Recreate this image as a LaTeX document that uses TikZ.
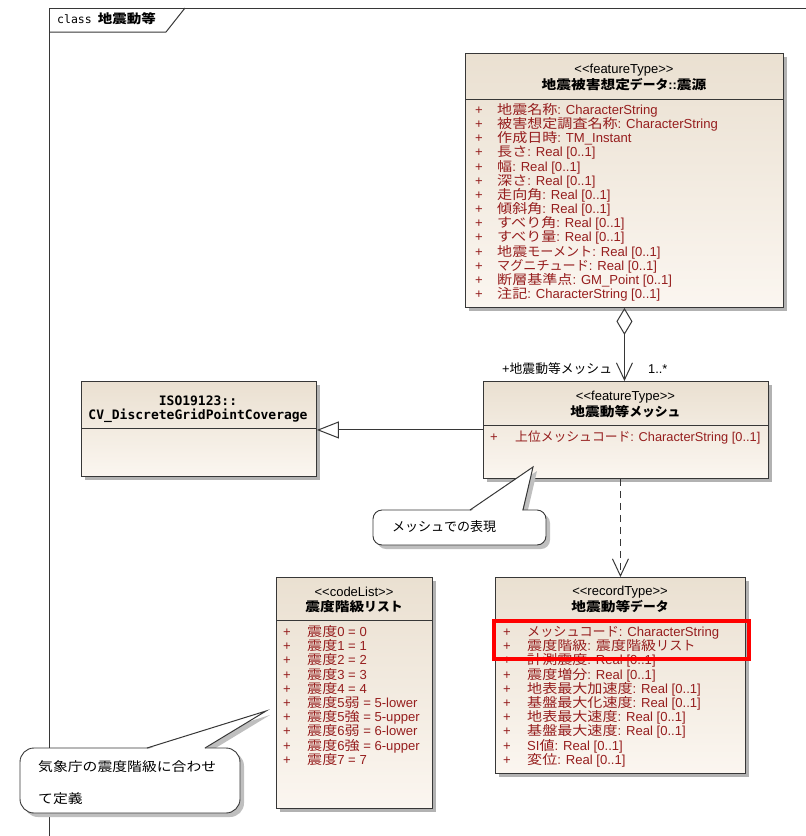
\documentclass[tikz,border=0pt]{standalone}
\usepackage{fontspec}
\setmainfont{Liberation Sans}
\newfontfamily\jkfont[FakeStretch=1.15]{Noto Sans CJK JP}
\newfontfamily\jpfont{Noto Sans CJK JP}
\newfontfamily\monofont{DejaVu Sans Mono}
\newcommand\JK[1]{{\jkfont #1}}
\newcommand\JP[1]{{\jpfont #1}}
\newcommand\lt{<\kern0pt<}
\newcommand\gt{>\kern0pt>}
\usetikzlibrary{arrows.meta,shadows}
\definecolor{attrred}{RGB}{150,30,30}
\definecolor{boxtop}{RGB}{234,224,209}
\definecolor{boxbot}{RGB}{251,246,240}
\definecolor{linec}{RGB}{55,55,55}
\begin{document}
\begin{tikzpicture}[x=1pt,y=-1pt,
  umlbox/.style={draw=linec, line width=0.9pt, top color=boxtop, bottom color=boxbot,
    anchor=north west, inner sep=0,
    drop shadow={shadow xshift=4pt, shadow yshift=-4pt, opacity=0.3, fill=black}},
  attr/.style={font=\fontsize{13.1}{15}\selectfont, text=attrred, anchor=west, inner sep=0,
    text height=9.5pt, text depth=2.5pt},
  stereo/.style={font=\fontsize{13}{15}\selectfont, inner sep=0},
  ttl/.style={font=\fontsize{12.8}{16}\selectfont\bfseries, inner sep=0},
  lbl/.style={font=\fontsize{12.8}{15}\selectfont, inner sep=0, anchor=west,
    text height=9.5pt, text depth=2.5pt},
  sep/.style={draw=linec, line width=0.9pt},
  conn/.style={draw=linec, line width=1pt},
  barb/.style={-{Straight Barb[length=17pt,width=16pt,line width=1pt]}}
]
\useasboundingbox (0,0) rectangle (806,836);

% frame
\draw[conn] (49,836) -- (49,8) -- (806,8);
\draw[conn] (49,32) -- (166,32) -- (185,8);
\node[inner sep=0, anchor=west, text height=9.5pt, text depth=2.5pt] (frametitle) at (57,20)
  {{\monofont\fontsize{11.5}{13}\selectfont class}\hspace{6pt}{\jkfont\bfseries\fontsize{12.6}{15}\selectfont 地震動等}};

% ---------- top box ----------
\node[umlbox, minimum width=318pt, minimum height=254pt] (src) at (465,53) {};
\draw[sep] (src.west |- 0,99) -- (src.east |- 0,99);
\node[stereo] (srcst) at (624,70) {\lt featureType\gt};
\node[ttl] (srcnm) at (624,85) {\JK{地震被害想定}\JP{データ}::\JK{震源}};
\foreach \t [count=\i] in {
  {\JK{地震名称}: CharacterString},
  {\JK{被害想定調査名称}: CharacterString},
  {\JK{作成日時}: TM\_Instant},
  {\JK{長さ}: Real [0..1]},
  {\JK{幅}: Real [0..1]},
  {\JK{深さ}: Real [0..1]},
  {\JK{走向角}: Real [0..1]},
  {\JK{傾斜角}: Real [0..1]},
  {\JK{すべり角}: Real [0..1]},
  {\JK{すべり量}: Real [0..1]},
  {\JK{地震}\JP{モーメント}: Real [0..1]},
  {\JP{マグニチュード}: Real [0..1]},
  {\JK{断層基準点}: GM\_Point [0..1]},
  {\JK{注記}: CharacterString [0..1]}} {
  \node[attr] (srcp\i) at (475,{96.85+14.15*\i}) {+};
  \node[attr] (srca\i) at (497,{96.85+14.15*\i}) {\t};
}

% ---------- ISO box ----------
\node[umlbox, minimum width=235pt, minimum height=95pt] (iso) at (81,381) {};
\draw[sep] (iso.west |- 0,428) -- (iso.east |- 0,428);
\node[inner sep=0, font=\monofont\bfseries\fontsize{13}{15}\selectfont] (isoa) at (198,401) {ISO19123::};
\node[inner sep=0, font=\monofont\bfseries\fontsize{13}{15}\selectfont] (isob) at (198,416) {CV\_DiscreteGridPointCoverage};

% ---------- mesh box ----------
\node[umlbox, minimum width=285pt, minimum height=97pt] (mesh) at (483,381) {};
\draw[sep] (mesh.west |- 0,425) -- (mesh.east |- 0,425);
\node[stereo] (meshst) at (625.5,397) {\lt featureType\gt};
\node[ttl] (meshnm) at (625.5,412) {\JK{地震動等}\JP{メッシュ}};
\node[attr] (meshp1) at (490,438) {+};
\node[attr, font=\fontsize{12.8}{15}\selectfont] (mesha1) at (515,438) {\JP{上位メッシュコード}: CharacterString [0..1]};

% ---------- codeList box ----------
\node[umlbox, minimum width=156pt, minimum height=231pt] (code) at (276,577) {};
\draw[sep] (code.west |- 0,620) -- (code.east |- 0,620);
\node[stereo] (codest) at (354,592) {\lt codeList\gt};
\node[ttl] (codenm) at (354,607) {\JK{震度階級}\JP{リスト}};
\foreach \t [count=\i] in {
  {\JK{震度}0 = 0},
  {\JK{震度}1 = 1},
  {\JK{震度}2 = 2},
  {\JK{震度}3 = 3},
  {\JK{震度}4 = 4},
  {\JK{震度}5\JK{弱} = 5-lower},
  {\JK{震度}5\JK{強} = 5-upper},
  {\JK{震度}6\JK{弱} = 6-lower},
  {\JK{震度}6\JK{強} = 6-upper},
  {\JK{震度}7 = 7}} {
  \node[attr] (codep\i) at (283,{618.8+14.2*\i}) {+};
  \node[attr] (codea\i) at (307,{618.8+14.2*\i}) {\t};
}

% ---------- recordType box ----------
\node[umlbox, minimum width=250pt, minimum height=196pt] (rec) at (495,577) {};
\draw[sep] (rec.west |- 0,620) -- (rec.east |- 0,620);
\node[stereo] (recst) at (620,592) {\lt recordType\gt};
\node[ttl] (recnm) at (620,607) {\JK{地震動等}\JP{データ}};
\foreach \t [count=\i] in {
  {\JP{メッシュコード}: CharacterString},
  {\JK{震度階級}: \JK{震度階級}\JP{リスト}},
  {\JK{計測震度}: Real [0..1]},
  {\JK{震度増分}: Real [0..1]},
  {\JK{地表最大加速度}: Real [0..1]},
  {\JK{基盤最大化速度}: Real [0..1]},
  {\JK{地表最大速度}: Real [0..1]},
  {\JK{基盤最大速度}: Real [0..1]},
  {SI\JK{値}: Real [0..1]},
  {\JK{変位}: Real [0..1]}} {
  \node[attr] (recp\i) at (503,{618.8+14.2*\i}) {+};
  \node[attr] (reca\i) at (527,{618.8+14.2*\i}) {\t};
}

% ---------- connectors ----------
\draw[conn, {Diamond[open,length=27pt,width=16pt,line width=1pt]}-{Straight Barb[length=17pt,width=16pt,line width=1pt]}]
  (src.south) -- (src.south |- mesh.north);
\node[lbl] (rolelbl) at (502,370) {+\JP{地震動等メッシュ}};
\node[lbl] (multlbl) at (648,370) {1..*};

\draw[conn, -{Triangle[open,length=22pt,width=17pt,line width=1pt,fill=white]}]
  (mesh.west) -- (mesh.west -| iso.east);

\draw[conn, barb, dash pattern=on 7pt off 5pt]
  (rec.north |- mesh.south) -- (rec.north);

% ---------- callout 1 ----------
\begin{scope}[shift={(4,4)}]
  \fill[black!25, rounded corners=9pt] (373,510) rectangle (546,545);
  \fill[black!25] (470,510) -- (533,467) -- (523,510) -- cycle;
\end{scope}
\filldraw[fill=white, draw=linec, line width=0.9pt, rounded corners=9pt] (373,510) rectangle (546,545);
\fill[white] (471,511) -- (533,467) -- (522,511) -- cycle;
\draw[conn, line join=miter] (470,510) -- (533,467) -- (523,510);
\node[lbl, font=\fontsize{13}{15}\selectfont] (note1) at (392,528) {\JP{メッシュでの表現}};

% ---------- callout 2 ----------
\begin{scope}[shift={(4,4)}]
  \fill[black!25, rounded corners=14pt] (20,748) rectangle (240,813);
  \fill[black!25] (147,748) -- (266,711) -- (205,748) -- cycle;
\end{scope}
\filldraw[fill=white, draw=linec, line width=0.9pt, rounded corners=14pt] (20,748) rectangle (240,813);
\fill[white] (148,749) -- (266,711) -- (204,749) -- cycle;
\draw[conn, line join=miter] (147,748) -- (266,711) -- (205,748);
\node[lbl, font=\fontsize{12.9}{17}\selectfont] (note2a) at (38,768) {\JK{気象庁の震度階級に合わせ}};
\node[lbl, font=\fontsize{12.9}{17}\selectfont] (note2b) at (38,800) {\JK{て定義}};

% ---------- highlight ----------
\draw[red, line width=4pt] (494,621) rectangle (749,659);
\end{tikzpicture}
\end{document}
